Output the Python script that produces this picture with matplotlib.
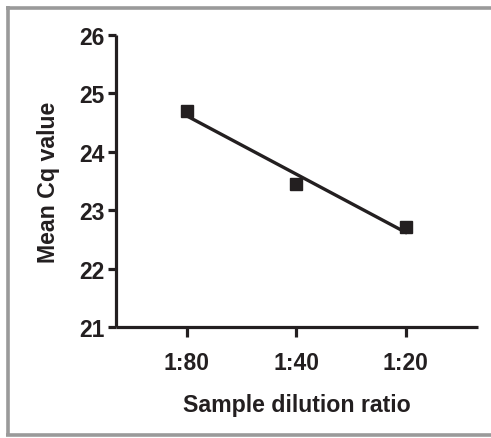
import matplotlib.pyplot as plt
import numpy as np
from matplotlib.lines import Line2D

plt.rcParams['font.family'] = ['Liberation Sans', 'DejaVu Sans']
plt.rcParams['font.weight'] = 'bold'

# data
dilutions = ['1:80', '1:40', '1:20']
mean_cq = [24.70, 23.45, 22.71]
xpos = np.arange(1, len(dilutions) + 1)

fig = plt.figure(figsize=(4.91, 4.39), dpi=100)
ax = fig.add_axes([0.236, 0.252, 0.737, 0.666])

# linear fit through the points
slope, icpt = np.polyfit(xpos, mean_cq, 1)
ax.plot(xpos, slope * xpos + icpt, color='#231f20', lw=2.4, zorder=2)
ax.plot(xpos, mean_cq, 's', color='#231f20', ms=8.5, zorder=3)

ax.set_xlim(0.35, 3.66)
ax.set_ylim(21, 26)
ax.set_xticks(xpos)
ax.set_xticklabels(dilutions)
ax.set_yticks(range(21, 27))

for s in ['top', 'right']:
    ax.spines[s].set_visible(False)
for s in ['left', 'bottom']:
    ax.spines[s].set_linewidth(2.3)
    ax.spines[s].set_color('#231f20')
    ax.spines[s].set_capstyle('butt')
ax.tick_params(axis='y', length=6, width=2.3, color='#231f20', labelsize=16.5, pad=2, labelcolor='#231f20')
ax.tick_params(axis='x', length=7, width=2.3, color='#231f20', labelsize=16.5, pad=10, labelcolor='#231f20')

ax.set_xlabel('Sample dilution ratio', fontsize=16.7, fontweight='bold', color='#231f20', labelpad=14)
ax.set_ylabel('Mean Cq value', fontsize=16.7, fontweight='bold', color='#231f20', labelpad=14)

# gray frame around the figure (no right edge visible)
W, H = 491.0, 439.0
frame_kw = dict(color='#9a9a9a', lw=2.6, transform=fig.transFigure, solid_capstyle='butt')
fig.add_artist(Line2D([6.2 / W, 1.0], [1 - 8.5 / H, 1 - 8.5 / H], **frame_kw))
fig.add_artist(Line2D([7.5 / W, 7.5 / W], [1 - 7.2 / H, 1 - 436.8 / H], **frame_kw))
fig.add_artist(Line2D([6.2 / W, 1.0], [1 - 435.5 / H, 1 - 435.5 / H], **frame_kw))

fig.savefig('out.png', dpi=100)
